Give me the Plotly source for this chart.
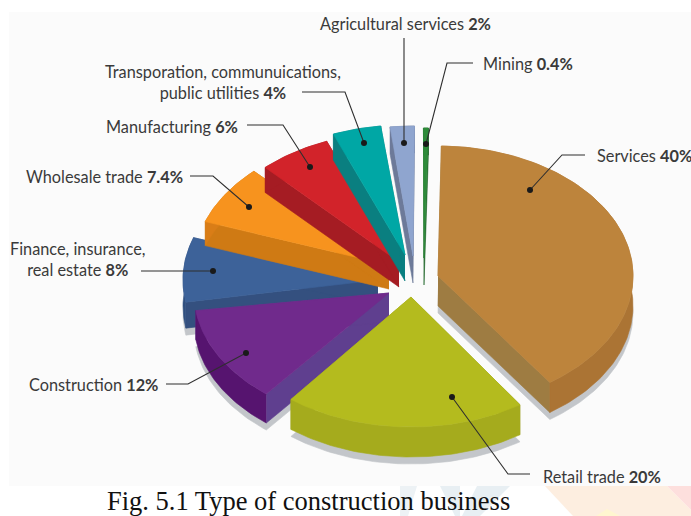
import numpy as np
import plotly.graph_objects as go

# Share of construction business by client type, in percent
sectors = ["Services", "Retail trade", "Construction", "Finance, insurance, real estate",
           "Wholesale trade", "Manufacturing", "Transportation, communications, public utilities",
           "Agricultural services", "Mining"]
shares = [40, 20, 12, 8, 7.4, 6, 4, 2, 0.4]

label_names = ["Services ", "Retail trade ", "Construction ", "Finance, insurance,<br>real estate ",
               "Wholesale trade ", "Manufacturing ", "Transporation, communuications,<br>public utilities ",
               "Agricultural services ", "Mining "]
label_values = ["40%", "20%", "12%", "8%", "7.4%", "6%", "4%", "2%", "0.4%"]

top_colors = ["#bd843c", "#b4bb1e", "#702a8c", "#3d6299", "#f7931e", "#d2232a", "#00a7a5", "#8fa5cf", "#2e8b3a"]
rim_colors = ["#ab7434", "#a5ab1d", "#56146f", "#2f4f7f", "#d97d17", "#a51c23", "#0a7f80", "#6d7a99", "#20662a"]
side_colors = ["#9e7c42", "#9aa022", "#5f3f8f", "#34507f", "#cf7a14", "#a51c23", "#0a7f80", "#6d7a99", "#20662a"]

# Pie projection
RX, RY = 195, 130
slice_turn = [1.0, 2.0, 3.0, 1.0, 1.5, 2.0, 2.2, 2.6, 2.0]
hub_x = [438, 411, 389, 378, 389, 399, 405, 413, 424]
hub_y = [276, 297, 293, 280, 265, 262, 255, 256, 258]
depth = [30, 30, 29, 26, 24, 25, 26, 27, 27]
has_shadow = [True, True, True, True, False, False, False, False, False]

# Slices are painted from back to front
paint_order = [3, 2, 4, 5, 6, 7, 8, 1, 0]

# Leader lines, listed from the text end to the dot
leader_x = [[585, 562, 530], [530, 508, 452], [166, 188, 246], [141, 213],
            [190, 213, 249], [247, 283, 310], [302, 345, 364], [404, 404], [473, 447, 426]]
leader_y = [[155, 155, 190], [474, 474, 397], [384, 384, 353], [271, 271],
            [176, 176, 207], [125, 125, 167], [92, 92, 143], [38, 143], [63, 63, 144]]

label_x = [595, 541, 27, 77, 24, 104, 223, 318, 481]
label_y = [155, 476, 384, 259, 176, 126, 82, 23, 63]
label_anchor = ["left", "left", "left", "center", "left", "left", "center", "left", "left"]

# Slice spans follow directly from the shares
ends = np.cumsum(shares) * 3.6
starts = ends - np.array(shares) * 3.6


def rim_points(i):
    """Outer arc of slice i on the tilted ellipse."""
    steps = max(int(shares[i] * 3), 4)
    a = np.radians(np.linspace(starts[i], ends[i], steps) + slice_turn[i])
    return hub_x[i] + RX * np.sin(a), hub_y[i] - RY * np.cos(a)


def face(xs, ys, color):
    return go.Scatter(x=list(xs), y=list(ys), mode="lines", fill="toself", fillcolor=color,
                      line=dict(width=0.6, color=color), hoverinfo="skip", showlegend=False)


fig = go.Figure()

for i in paint_order:
    ax, ay = rim_points(i)
    hx, hy, d = hub_x[i], hub_y[i], depth[i]
    if has_shadow[i]:
        fig.add_trace(face(np.concatenate([[hx], ax, [hx]]),
                           np.concatenate([[hy + d + 7], ay + d + 7, [hy + d + 7]]), "#c3c6ca"))
    # Two radial cut faces, then the curved rim, then the top surface over them
    for k in (0, -1):
        fig.add_trace(face([hx, ax[k], ax[k], hx], [hy, ay[k], ay[k] + d, hy + d], side_colors[i]))
    fig.add_trace(face(np.concatenate([ax, ax[::-1]]), np.concatenate([ay, ay[::-1] + d]), rim_colors[i]))
    fig.add_trace(face(np.concatenate([[hx], ax, [hx]]), np.concatenate([[hy], ay, [hy]]), top_colors[i]))

for i in range(len(shares)):
    fig.add_trace(go.Scatter(x=leader_x[i], y=leader_y[i], mode="lines",
                             line=dict(color="#2f2f2f", width=1.1), hoverinfo="skip", showlegend=False))
    fig.add_trace(go.Scatter(x=leader_x[i][-1:], y=leader_y[i][-1:], mode="markers",
                             marker=dict(color="#1a1a1a", size=6), hoverinfo="skip", showlegend=False))
    fig.add_annotation(x=label_x[i], y=label_y[i], xref="x", yref="y", xanchor=label_anchor[i], yanchor="middle",
                       align="center", showarrow=False,
                       text=f"{label_names[i]}<b>{label_values[i]}</b>",
                       font=dict(family="Lato", size=16.3, color="#3a3a3a"))

fig.add_annotation(x=308, y=501, xref="x", yref="y", xanchor="center", yanchor="middle", showarrow=False,
                   text="Fig. 5.1 Type of construction business",
                   font=dict(family="Liberation Serif", size=26.5, color="#111111"))


def backdrop(path, color):
    return dict(type="path", path=path, fillcolor=color, line=dict(width=0), layer="below", xref="x", yref="y")


fig.update_layout(
    width=691, height=516, margin=dict(l=0, r=0, t=0, b=0),
    paper_bgcolor="#ffffff", plot_bgcolor="#ffffff", autosize=False,
    xaxis=dict(range=[0, 691], visible=False, fixedrange=True),
    yaxis=dict(range=[516, 0], visible=False, fixedrange=True),
    shapes=[
        backdrop("M9,12 L691,12 L691,486 L9,486 Z", "#fbfbfb"),
        backdrop("M400,486 L417,486 L408,516 L400,516 Z", "#edf2f5"),
        backdrop("M440,486 L460,486 L460,516 L455,516 Z", "#e8eff3"),
        backdrop("M477,486 L510,486 L480,516 L462,516 Z", "#e8eff3"),
        backdrop("M545,486 L667,486 L691,510 L691,516 L573,516 Z", "#fdeee0"),
        backdrop("M667,486 L691,486 L691,510 Z", "#fddfdd"),
        backdrop("M607,509 L620,516 L596,516 Z", "#fff6d0"),
    ],
)

fig.write_html("out.html")
